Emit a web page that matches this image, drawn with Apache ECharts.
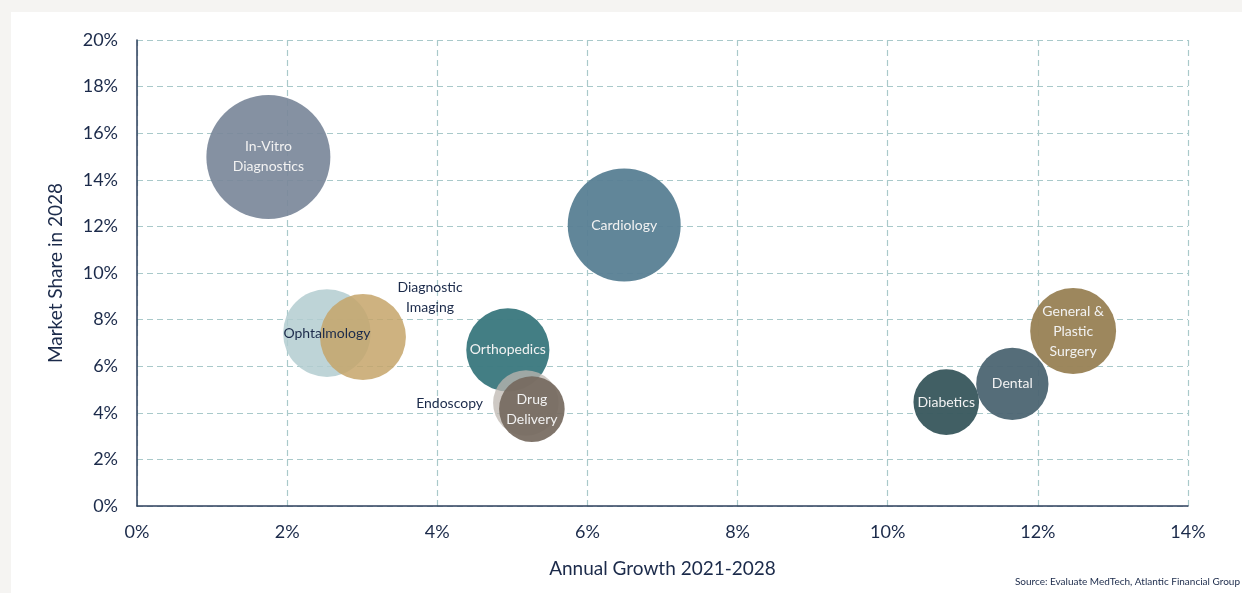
<!DOCTYPE html>
<html>
<head>
<meta charset="utf-8">
<script src="https://cdn.jsdelivr.net/npm/echarts@6/dist/echarts.min.js"></script>
<style>
html,body{margin:0;padding:0;background:#f5f4f2;}
#chart{width:1242px;height:593px;}
</style>
</head>
<body>
<div id="chart"></div>
<script>
// Data
const segments = ['In-Vitro Diagnostics','Cardiology','Ophtalmology','Diagnostic Imaging','Orthopedics','Endoscopy','Drug Delivery','Diabetics','Dental','General & Plastic Surgery'];
const labelTexts = ['In-Vitro\nDiagnostics','Cardiology','Ophtalmology','Diagnostic\nImaging','Orthopedics','Endoscopy','Drug\nDelivery','Diabetics','Dental','General &\nPlastic\nSurgery'];
const annualGrowth = [1.75, 6.49, 2.53, 3.01, 4.94, 5.18, 5.26, 10.78, 11.66, 12.47];
const marketShare = [14.98, 12.06, 7.42, 7.25, 6.70, 4.42, 4.16, 4.46, 5.24, 7.51];
const relativeSize = [100, 83, 50, 48, 45, 28, 28, 28, 34, 48];
const xTicks = ['0%','2%','4%','6%','8%','10%','12%','14%'];
const yTicks = ['0%','2%','4%','6%','8%','10%','12%','14%','16%','18%','20%'];

const colors = ['#7b889a','#587f94','#b3cdd0','#c6a46a','#3d7a80','#bdb7b0','#75695e','#3b5a5f','#4c6572','#9a8358'];
const opac   = [0.92, 0.95, 0.85, 0.85, 0.97, 0.75, 0.92, 0.97, 0.95, 0.97];
const txtNavy = '#1b2a4a';

const data = segments.map((s,i)=>{
  const item = {
    name: s,
    value: [annualGrowth[i], marketShare[i], relativeSize[i]],
    itemStyle: {color: colors[i], opacity: opac[i]},
    label: {show:true, formatter: labelTexts[i], color:'#f2f2f2', opacity:1, fontSize:14, lineHeight:20, fontFamily:'Lato'}
  };
  if (s === 'Ophtalmology') { item.label.color = txtNavy; }
  if (s === 'Diagnostic Imaging') {
    item.label.color = txtNavy; item.label.position = [110, 3];
    item.label.align = 'center'; item.label.verticalAlign = 'middle';
  }
  if (s === 'Endoscopy') {
    item.label.color = txtNavy; item.label.position = 'left'; item.label.distance = 10;
  }
  return item;
});

const chart = echarts.init(document.getElementById('chart'));
chart.setOption({
  backgroundColor:'#f5f4f2',
  animation:false,
  textStyle:{fontFamily:'Lato'},
  graphic:[
    {type:'rect', z:-10, silent:true, shape:{x:11,y:12,width:1231,height:581}, style:{fill:'#ffffff'}},
    {type:'text', right:2, top:577, style:{text:'Source: Evaluate MedTech, Atlantic Financial Group', fill:txtNavy, fontSize:10, fontFamily:'Lato'}}
  ],
  grid:{left:137, right:54, top:40, bottom:87},
  xAxis:{
    type:'value', min:0, max:14, interval:2,
    name:'Annual Growth 2021-2028', nameLocation:'middle', nameGap:53,
    nameTextStyle:{color:txtNavy, fontSize:19, fontFamily:'Lato'},
    axisLine:{show:true, lineStyle:{color:'#2e3f5c', width:1.5}},
    axisTick:{show:false},
    axisLabel:{color:txtNavy, fontSize:18, margin:17, fontFamily:'Lato', formatter:(v)=>xTicks[Math.round(v/2)]},
    splitLine:{show:true, lineStyle:{color:'#a9c9ca', type:[6,4], width:1.2}}
  },
  yAxis:{
    type:'value', min:0, max:20, interval:2,
    name:'Market Share in 2028', nameLocation:'middle', nameGap:72,
    nameTextStyle:{color:txtNavy, fontSize:19, fontFamily:'Lato'},
    axisLine:{show:true, lineStyle:{color:'#2e3f5c', width:1.5}},
    axisTick:{show:false},
    axisLabel:{color:txtNavy, fontSize:18, margin:19, fontFamily:'Lato', formatter:(v)=>yTicks[Math.round(v/2)]},
    splitLine:{show:true, lineStyle:{color:'#a9c9ca', type:[6,4], width:1.2}}
  },
  series:[{
    type:'scatter',
    data:data,
    symbolSize:(val)=>124*Math.sqrt(val[2]/100),
    emphasis:{disabled:true},
    labelLayout:{hideOverlap:false}
  }]
});
</script>
</body>
</html>
